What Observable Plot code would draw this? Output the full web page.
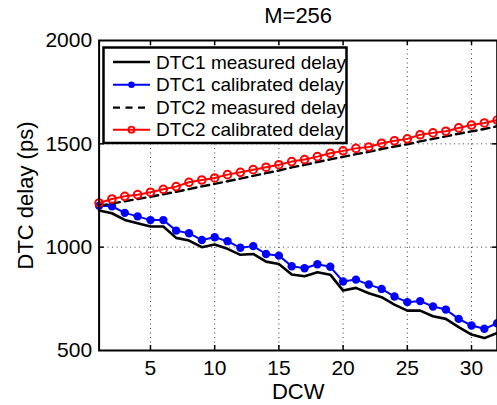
<!DOCTYPE html>
<html>
<head>
<meta charset="utf-8">
<script src="https://cdn.jsdelivr.net/npm/d3@7"></script>
<script src="https://cdn.jsdelivr.net/npm/@observablehq/plot@0.6"></script>
<style>
  html, body { margin: 0; padding: 0; background: white; }
  #wrap { position: relative; width: 497px; height: 405px; overflow: hidden; }
  #legend { position: absolute; left: 0; top: 0; }
</style>
</head>
<body>
<div id="wrap"></div>
<script>
const title = "M=256";
const xLabel = "DCW";
const yLabel = "DTC delay (ps)";
const dcw = [1,2,3,4,5,6,7,8,9,10,11,12,13,14,15,16,17,18,19,20,21,22,23,24,25,26,27,28,29,30,31,32];
const dtc1Measured = [1177,1164,1132,1116,1100,1100,1045,1032,1000,1013,992,963,967,930,919,868,859,879,867,790,803,777,758,722,693,693,666,653,613,577,560,585];
const dtc1Calibrated = [1200,1198,1166,1149,1131,1131,1080,1067,1035,1048,1029,997,1005,967,959,908,898,917,905,834,843,819,798,761,734,739,713,698,653,621,605,632];
const dtc2Measured = [1200,1211,1222,1233,1244,1256,1268,1281,1294,1306,1319,1332,1345,1358,1371,1386,1398,1412,1425,1437,1450,1461,1475,1487,1498,1512,1524,1536,1549,1560,1572,1585];
const dtc2Calibrated = [1214,1233,1246,1254,1266,1280,1293,1314,1325,1335,1351,1362,1375,1387,1399,1414,1424,1438,1454,1466,1478,1485,1503,1515,1524,1544,1553,1561,1577,1591,1601,1615];
const seriesNames = ["DTC1 measured delay","DTC1 calibrated delay","DTC2 measured delay","DTC2 calibrated delay"];
const xTicks = [5,10,15,20,25,30];
const yTicks = [500,1000,1500,2000];
const yGrid = [1000,1500];

const rows = arr => dcw.map((x, i) => ({x, v: arr[i]}));
const font = "'Liberation Sans', Arial, Helvetica, sans-serif";

const chart = Plot.plot({
  width: 497,
  height: 405,
  marginLeft: 98.6,
  marginRight: 0.3,
  marginTop: 40,
  marginBottom: 55,
  style: {fontFamily: font, fontSize: "21px", background: "white", color: "black", overflow: "visible"},
  x: {domain: [1, 32]},
  y: {domain: [500, 2000]},
  marks: [
    Plot.gridX(xTicks, {stroke: "#222", strokeOpacity: 0.9, strokeWidth: 1, strokeDasharray: "1,3.5"}),
    Plot.gridY(yGrid, {stroke: "#222", strokeOpacity: 0.9, strokeWidth: 1, strokeDasharray: "1,3.5"}),
    Plot.tickX(xTicks, {x: d => d, insetTop: 305, stroke: "black", strokeWidth: 1.5}),
    Plot.tickX(xTicks, {x: d => d, insetBottom: 305, stroke: "black", strokeWidth: 1.5}),
    Plot.tickY(yGrid, {y: d => d, insetRight: 393, stroke: "black", strokeWidth: 1.5}),
    Plot.tickY(yGrid, {y: d => d, insetLeft: 393, stroke: "black", strokeWidth: 1.5}),
    Plot.axisX({ticks: xTicks, tickSize: 0, tickPadding: 10, fontSize: 21, label: null, tickFormat: d => String(d)}),
    Plot.axisY({ticks: yTicks, tickSize: 0, tickPadding: 7, fontSize: 21, label: null, tickFormat: d => String(d)}),
    Plot.line(rows(dtc1Measured), {x: "x", y: "v", stroke: "black", strokeWidth: 2.6}),
    Plot.line(rows(dtc1Calibrated), {x: "x", y: "v", stroke: "#0000ff", strokeWidth: 2}),
    Plot.dot(rows(dtc1Calibrated), {x: "x", y: "v", fill: "#0000ff", r: 4.2}),
    Plot.line(rows(dtc2Measured), {x: "x", y: "v", stroke: "black", strokeWidth: 2.4, strokeDasharray: "8,5"}),
    Plot.line(rows(dtc2Calibrated), {x: "x", y: "v", stroke: "#ff0000", strokeWidth: 2}),
    Plot.dot(rows(dtc2Calibrated), {x: "x", y: "v", stroke: "#ff0000", fill: "none", strokeWidth: 2, r: 3.8}),
    Plot.frame({stroke: "black", strokeWidth: 2}),
    Plot.text([title], {text: d => d, frameAnchor: "top", dy: -25, textAnchor: "middle", lineAnchor: "middle", fontSize: 22, fill: "black"}),
    Plot.text([xLabel], {text: d => d, frameAnchor: "bottom", dy: 41.5, textAnchor: "middle", lineAnchor: "middle", fontSize: 22, fill: "black"}),
    Plot.text([yLabel], {text: d => d, frameAnchor: "left", dx: -73.6, rotate: -90, textAnchor: "middle", lineAnchor: "middle", fontSize: 22, fill: "black"})
  ]
});
document.getElementById("wrap").appendChild(chart);

// legend overlay
const lg = d3.select("#wrap").append("svg")
  .attr("id", "legend")
  .attr("width", 497).attr("height", 405)
  .style("font-family", font);
const bx = 103.5, by = 47.5, bw = 243, bh = 95.5;
lg.append("rect").attr("x", bx).attr("y", by).attr("width", bw).attr("height", bh)
  .attr("fill", "white").attr("stroke", "black").attr("stroke-width", 2.5);
const styles = [
  {stroke: "black", dash: null, marker: null, w: 2.4},
  {stroke: "#0000ff", dash: null, marker: "fill", w: 2},
  {stroke: "black", dash: "7,5.5", marker: null, w: 2.4},
  {stroke: "#ff0000", dash: null, marker: "open", w: 2}
];
const rowY = [62, 84.7, 107.6, 129.7];
seriesNames.forEach((name, i) => {
  const s = styles[i];
  const yy = rowY[i];
  const ln = lg.append("line").attr("x1", 113).attr("x2", 150).attr("y1", yy).attr("y2", yy)
    .attr("stroke", s.stroke).attr("stroke-width", s.w);
  if (s.dash) ln.attr("stroke-dasharray", s.dash);
  if (s.marker === "fill") lg.append("circle").attr("cx", 131.5).attr("cy", yy).attr("r", 3.3).attr("fill", s.stroke);
  if (s.marker === "open") lg.append("circle").attr("cx", 131.5).attr("cy", yy).attr("r", 3).attr("fill", "none").attr("stroke", s.stroke).attr("stroke-width", 1.8);
  lg.append("text").attr("x", 156).attr("y", yy).attr("dy", "0.35em")
    .attr("font-size", 19).attr("fill", "black").text(name);
});
</script>
</body>
</html>
